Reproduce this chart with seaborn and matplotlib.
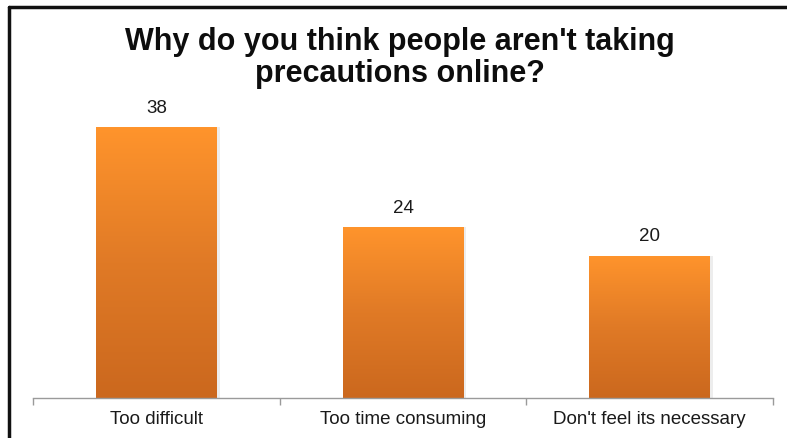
import numpy as np
import pandas as pd
import matplotlib
matplotlib.use("Agg")
import matplotlib.pyplot as plt
from matplotlib.lines import Line2D
from matplotlib.colors import LinearSegmentedColormap
import seaborn as sns

categories = ["Too difficult", "Too time consuming", "Don't feel its necessary"]
values = [38, 24, 20]
title = "Why do you think people aren't taking\nprecautions online?"

sns.set_theme(style="white")
plt.rcParams['font.family'] = ['Liberation Sans', 'DejaVu Sans']

fig = plt.figure(figsize=(7.87, 4.38), dpi=100)
ax = fig.add_axes([33/787, 1-398/438, (773-33)/787, (398-113)/438])

df = pd.DataFrame({"cat": categories, "val": values})
sns.barplot(data=df, x="cat", y="val", ax=ax, width=0.49, color="#F28A2A",
            saturation=1, edgecolor="none")

cmap = LinearSegmentedColormap.from_list("og", ["#CB681E", "#E07A26", "#FF942C"])
grad = np.linspace(0, 1, 256).reshape(-1, 1)
for p in ax.patches:
    x0, y0 = p.get_x(), p.get_y()
    w, h = p.get_width(), p.get_height()
    sh = plt.Rectangle((x0 + 0.012, y0), w, h, color="#000000", alpha=0.07,
                       zorder=1.5, lw=0)
    ax.add_patch(sh)
    im = ax.imshow(grad, extent=[x0, x0 + w, y0, y0 + h], origin="lower",
                   cmap=cmap, aspect="auto", zorder=2)
    im.set_clip_path(p)
    p.set_zorder(2)
    ax.text(x0 + w/2, y0 + h + 2.6, f"{int(h)}", ha="center", va="center",
            fontsize=13.5, color="#1a1a1a")

ax.set_xlim(-0.5, 2.5)
ax.set_ylim(0, 40)
ax.set_xlabel("")
ax.set_ylabel("")
ax.set_yticks([])
for s in ["top", "left", "right"]:
    ax.spines[s].set_visible(False)
ax.spines["bottom"].set_color("#9a9a9a")
ax.spines["bottom"].set_linewidth(1.0)
ax.set_xticks(range(len(categories)))
ax.set_xticklabels(categories, fontsize=13.5, color="#1a1a1a")
ax.tick_params(axis="x", which="major", length=0, pad=9)
ax.set_xticks([-0.5, 0.5, 1.5, 2.5], minor=True)
ax.tick_params(axis="x", which="minor", length=5, color="#9a9a9a", width=1.0, bottom=True)

fig.text(400/787, 1-58/438, title, ha="center", va="center", fontsize=22,
         fontweight="bold", color="#0d0d0d", linespacing=1.1)

fig.add_artist(Line2D([9/787, 1], [1-7/438, 1-7/438], transform=fig.transFigure,
                      color="#111111", lw=2.5))
fig.add_artist(Line2D([9/787, 9/787], [0, 1-7/438], transform=fig.transFigure,
                      color="#111111", lw=2.5))

fig.savefig("out.png", dpi=100)
